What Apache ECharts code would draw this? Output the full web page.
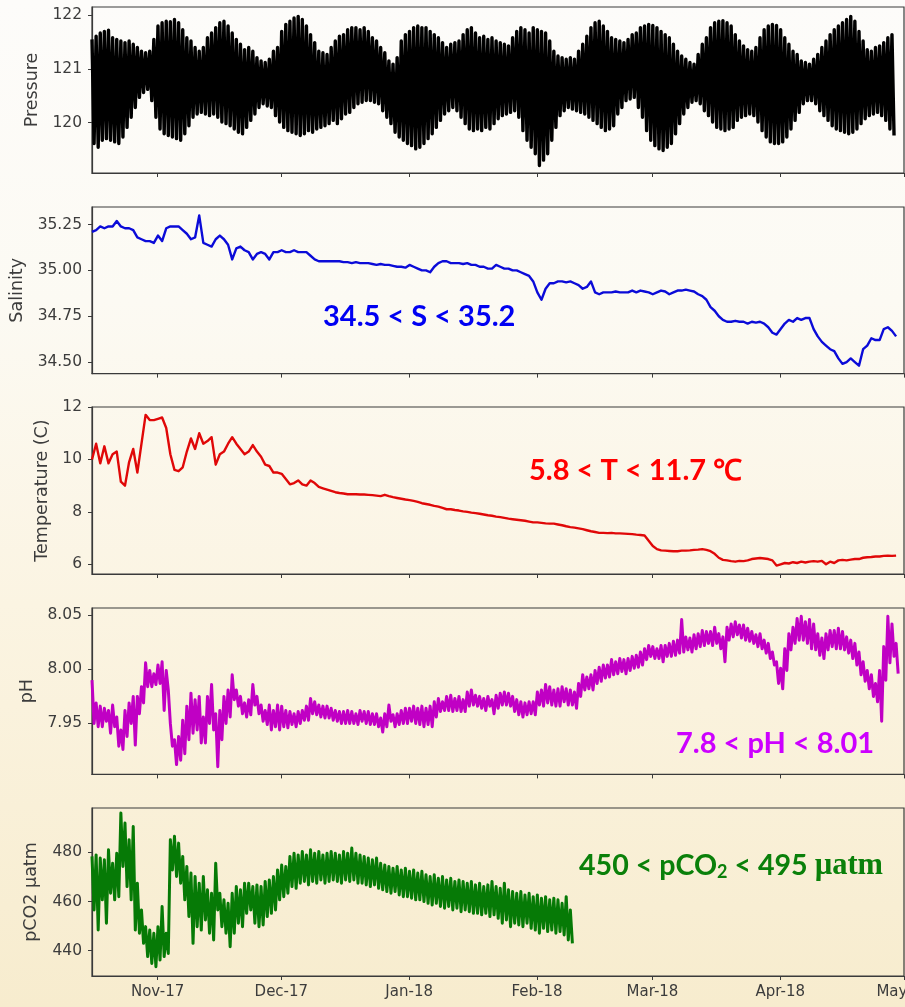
<!DOCTYPE html>
<html>
<head>
<meta charset="utf-8">
<script src="https://cdn.jsdelivr.net/npm/echarts@6/dist/echarts.min.js"></script>
<style>
  html, body { margin: 0; padding: 0; }
  body {
    width: 905px; height: 1007px; overflow: hidden;
    background: linear-gradient(to bottom, #fdfcfa 0%, #fcfaf3 30%, #fbf4e2 60%, #f7ecce 100%);
  }
  #chart { width: 905px; height: 1007px; }
</style>
</head>
<body>
<div id="chart"></div>
<script>
// Mooring time series, one sample per day from 16 Oct 2017 (day 0).
// Banded records (pressure, pH, pCO2) are stored as daily high / low values.

const startTime = Date.UTC(2017, 9, 16, 2);
const endTime = Date.UTC(2018, 4, 1);
const DAY = 86400000;

const monthTicks = [
  Date.UTC(2017, 10, 1), Date.UTC(2017, 11, 1), Date.UTC(2018, 0, 1),
  Date.UTC(2018, 1, 1), Date.UTC(2018, 2, 1), Date.UTC(2018, 3, 1), Date.UTC(2018, 4, 1)
];
const monthNames = ['Jan','Feb','Mar','Apr','May','Jun','Jul','Aug','Sep','Oct','Nov','Dec'];

const pressureTicks = [120, 121, 122];
const salinityTicks = [34.50, 34.75, 35.00, 35.25];
const temperatureTicks = [6, 8, 10, 12];
const phTicks = [7.95, 8.00, 8.05];
const pco2Ticks = [440, 460, 480];

const pressureHigh = [
  121.55,121.61,121.67,121.70,121.72,121.58,121.55,121.52,121.49,121.52,
  121.46,121.40,121.33,121.30,121.33,121.55,121.80,121.86,121.89,121.88,
  121.92,121.86,121.73,121.58,121.52,121.40,121.33,121.40,121.58,121.67,
  121.77,121.86,121.89,121.80,121.67,121.55,121.46,121.36,121.40,121.33,
  121.21,121.15,121.12,121.18,121.33,121.40,121.70,121.83,121.89,121.95,
  121.98,121.92,121.80,121.64,121.49,121.33,121.30,121.27,121.40,121.52,
  121.61,121.64,121.73,121.77,121.77,121.73,121.77,121.70,121.58,121.52,
  121.40,121.30,121.15,121.09,121.21,121.52,121.64,121.70,121.77,121.80,
  121.77,121.77,121.70,121.64,121.58,121.49,121.40,121.46,121.49,121.52,
  121.64,121.73,121.77,121.67,121.58,121.61,121.55,121.58,121.52,121.49,
  121.46,121.43,121.58,121.70,121.77,121.73,121.67,121.77,121.73,121.70,
  121.67,121.52,121.33,121.24,121.21,121.18,121.21,121.18,121.33,121.46,
  121.61,121.77,121.86,121.89,121.80,121.70,121.58,121.55,121.52,121.49,
  121.55,121.64,121.67,121.77,121.80,121.83,121.81,121.77,121.70,121.64,
  121.58,121.46,121.33,121.24,121.18,121.12,121.09,121.27,121.46,121.58,
  121.77,121.86,121.89,121.90,121.86,121.80,121.64,121.52,121.43,121.36,
  121.33,121.40,121.58,121.73,121.80,121.83,121.81,121.73,121.58,121.46,
  121.33,121.27,121.15,121.12,121.09,121.18,121.27,121.40,121.52,121.64,
  121.73,121.80,121.86,121.92,121.98,121.89,121.70,121.52,121.36,121.33,
  121.40,121.43,121.49,121.58,121.64
];
const pressureLow = [
  119.61,119.54,119.67,119.70,119.67,119.64,119.61,119.73,119.91,120.10,
  120.28,120.47,120.56,120.62,120.41,120.10,119.88,119.79,119.76,119.73,
  119.70,119.67,119.79,119.94,120.10,120.16,120.19,120.16,120.13,120.16,
  120.10,120.01,119.98,119.94,119.88,119.82,119.79,119.91,120.04,120.16,
  120.28,120.35,120.31,120.28,120.13,120.01,119.91,119.85,119.82,119.79,
  119.76,119.79,119.85,119.82,119.88,119.91,119.94,119.98,120.04,119.98,
  120.07,120.16,120.19,120.28,120.35,120.38,120.41,120.41,120.38,120.35,
  120.22,120.10,119.98,119.82,119.73,119.67,119.61,119.57,119.51,119.54,
  119.61,119.70,119.79,119.91,120.04,120.16,120.22,120.28,120.22,120.10,
  119.98,119.88,119.85,119.88,119.85,119.91,119.88,119.98,120.07,120.13,
  120.16,120.19,120.22,120.10,119.85,119.67,119.54,119.42,119.20,119.30,
  119.42,119.67,119.91,120.13,120.22,120.28,120.25,120.22,120.19,120.16,
  120.10,120.04,119.98,119.91,119.85,119.88,119.94,120.16,120.28,120.41,
  120.44,120.47,120.28,120.10,119.85,119.67,119.57,119.51,119.48,119.54,
  119.61,119.79,119.98,120.16,120.28,120.38,120.41,120.35,120.22,120.13,
  120.01,119.91,119.88,119.85,119.88,119.91,120.04,120.10,120.13,120.16,
  120.13,120.01,119.85,119.73,119.64,119.61,119.61,119.64,119.73,119.88,
  120.04,120.19,120.35,120.41,120.41,120.35,120.22,120.13,120.04,119.94,
  119.88,119.85,119.82,119.79,119.82,119.88,119.98,120.07,120.13,120.16,
  120.19,120.13,120.04,119.88,119.76
];

const salinity = [
  35.21,35.22,35.24,35.23,35.24,35.24,35.27,35.24,35.23,35.23,
  35.22,35.18,35.17,35.16,35.16,35.15,35.19,35.16,35.23,35.24,
  35.24,35.24,35.22,35.20,35.17,35.18,35.30,35.15,35.14,35.13,
  35.17,35.19,35.17,35.14,35.06,35.12,35.13,35.11,35.10,35.06,
  35.09,35.10,35.09,35.06,35.10,35.10,35.11,35.10,35.10,35.11,
  35.10,35.10,35.10,35.08,35.06,35.05,35.05,35.05,35.05,35.05,
  35.05,35.045,35.045,35.04,35.045,35.04,35.04,35.04,35.035,35.03,
  35.035,35.03,35.03,35.025,35.02,35.02,35.015,35.03,35.02,35.01,
  35.00,35.00,34.99,35.02,35.04,35.05,35.05,35.04,35.04,35.04,
  35.035,35.04,35.03,35.03,35.02,35.02,35.01,35.01,35.03,35.02,
  35.01,35.01,35.00,35.00,34.99,34.98,34.97,34.94,34.88,34.84,
  34.90,34.93,34.93,34.94,34.94,34.935,34.94,34.93,34.92,34.90,
  34.91,34.94,34.88,34.87,34.88,34.88,34.88,34.885,34.88,34.88,
  34.88,34.89,34.88,34.89,34.885,34.88,34.87,34.88,34.89,34.885,
  34.87,34.88,34.89,34.89,34.895,34.89,34.885,34.87,34.86,34.84,
  34.80,34.78,34.75,34.73,34.72,34.72,34.725,34.72,34.72,34.71,
  34.72,34.715,34.72,34.71,34.69,34.66,34.65,34.68,34.71,34.73,
  34.72,34.74,34.73,34.74,34.74,34.68,34.64,34.61,34.59,34.57,
  34.56,34.52,34.49,34.50,34.52,34.50,34.48,34.57,34.59,34.63,
  34.62,34.62,34.68,34.69,34.67,34.64
];

const temperature = [
  10.0,10.6,9.85,10.5,9.85,10.2,10.3,9.15,9.0,9.9,
  10.4,9.5,10.6,11.7,11.5,11.5,11.55,11.6,11.2,10.2,
  9.6,9.55,9.7,10.3,10.8,10.4,11.0,10.6,10.7,10.85,
  9.8,10.2,10.3,10.6,10.85,10.6,10.4,10.2,10.3,10.55,
  10.3,10.1,9.8,9.75,9.5,9.5,9.45,9.25,9.05,9.1,
  9.2,9.05,9.0,9.2,9.1,8.95,8.9,8.85,8.8,8.75,
  8.72,8.7,8.67,8.67,8.67,8.66,8.66,8.65,8.64,8.62,
  8.6,8.65,8.6,8.56,8.53,8.5,8.47,8.45,8.42,8.38,
  8.33,8.3,8.27,8.23,8.2,8.15,8.1,8.1,8.07,8.05,
  8.02,8.0,7.97,7.95,7.93,7.9,7.87,7.85,7.82,7.8,
  7.77,7.74,7.72,7.7,7.68,7.66,7.63,7.6,7.6,7.58,
  7.56,7.55,7.55,7.52,7.49,7.45,7.42,7.4,7.37,7.34,
  7.3,7.26,7.23,7.2,7.2,7.19,7.2,7.18,7.18,7.17,
  7.16,7.15,7.13,7.12,7.1,6.9,6.7,6.58,6.53,6.52,
  6.51,6.5,6.5,6.52,6.52,6.53,6.55,6.56,6.58,6.55,
  6.5,6.4,6.25,6.17,6.15,6.12,6.1,6.13,6.12,6.15,
  6.2,6.22,6.24,6.22,6.2,6.15,5.95,6.0,6.05,6.03,
  6.08,6.05,6.1,6.07,6.1,6.12,6.1,6.13,6.0,6.1,
  6.05,6.15,6.17,6.15,6.18,6.2,6.2,6.25,6.27,6.28,
  6.3,6.3,6.32,6.33,6.32,6.33
];

const phHigh = [
  7.990,7.969,7.966,7.964,7.962,7.967,7.956,7.944,7.962,7.969,
  7.975,7.975,7.984,8.006,7.999,7.996,8.004,8.007,7.999,7.950,
  7.935,7.938,7.953,7.966,7.978,7.972,7.975,7.956,7.975,7.986,
  7.959,7.962,7.975,7.981,7.995,7.981,7.975,7.969,7.972,7.986,
  7.975,7.967,7.962,7.967,7.962,7.967,7.966,7.962,7.961,7.959,
  7.961,7.962,7.966,7.973,7.970,7.967,7.966,7.966,7.964,7.962,
  7.961,7.961,7.962,7.961,7.959,7.962,7.961,7.961,7.959,7.959,
  7.955,7.959,7.967,7.958,7.959,7.962,7.964,7.964,7.966,7.964,
  7.966,7.964,7.966,7.970,7.973,7.970,7.975,7.976,7.973,7.975,
  7.972,7.979,7.981,7.976,7.975,7.973,7.975,7.972,7.976,7.978,
  7.979,7.978,7.975,7.972,7.970,7.969,7.970,7.970,7.979,7.981,
  7.986,7.984,7.981,7.982,7.984,7.982,7.981,7.979,7.987,7.995,
  7.993,7.995,7.999,8.002,8.004,8.004,8.009,8.007,8.010,8.009,
  8.010,8.012,8.013,8.016,8.019,8.022,8.021,8.019,8.022,8.022,
  8.024,8.026,8.027,8.046,8.030,8.029,8.032,8.033,8.036,8.035,
  8.035,8.039,8.033,8.030,8.039,8.042,8.044,8.041,8.041,8.038,
  8.035,8.032,8.033,8.027,8.024,8.016,8.007,8.001,8.019,8.033,
  8.039,8.047,8.049,8.044,8.046,8.042,8.033,8.029,8.033,8.036,
  8.036,8.038,8.035,8.030,8.027,8.024,8.016,8.007,7.999,7.995,
  7.987,7.999,8.021,8.049,8.042,8.024
];
const phLow = [
  7.950,7.947,7.947,7.952,7.941,7.947,7.929,7.926,7.938,7.950,
  7.930,7.959,7.969,7.984,7.984,7.986,7.987,7.962,7.981,7.929,
  7.912,7.916,7.922,7.935,7.941,7.944,7.932,7.932,7.950,7.944,
  7.910,7.935,7.950,7.956,7.972,7.966,7.959,7.956,7.958,7.967,
  7.959,7.952,7.949,7.944,7.947,7.944,7.947,7.946,7.949,7.947,
  7.950,7.953,7.953,7.959,7.958,7.956,7.955,7.955,7.953,7.952,
  7.950,7.950,7.950,7.950,7.949,7.952,7.950,7.949,7.949,7.947,
  7.942,7.947,7.952,7.947,7.949,7.950,7.950,7.952,7.950,7.949,
  7.947,7.949,7.947,7.956,7.961,7.962,7.962,7.961,7.962,7.961,
  7.961,7.966,7.967,7.966,7.964,7.962,7.966,7.959,7.964,7.967,
  7.967,7.966,7.961,7.958,7.956,7.958,7.959,7.958,7.967,7.966,
  7.969,7.967,7.966,7.966,7.970,7.967,7.967,7.964,7.975,7.981,
  7.982,7.981,7.987,7.989,7.992,7.993,7.995,7.996,7.998,7.996,
  7.999,8.001,8.002,8.004,8.009,8.012,8.010,8.010,8.007,8.012,
  8.012,8.013,8.015,8.016,8.018,8.016,8.019,8.021,8.022,8.024,
  8.022,8.024,8.019,8.007,8.027,8.030,8.032,8.029,8.027,8.026,
  8.024,8.021,8.019,8.015,8.010,8.004,7.987,7.982,7.999,8.018,
  8.024,8.027,8.027,8.024,8.019,8.018,8.013,8.010,8.018,8.021,
  8.019,8.019,8.018,8.015,8.010,8.004,7.995,7.989,7.982,7.975,
  7.970,7.952,7.990,8.006,8.012,7.996
];

const pco2High = [
  478.4,479.0,477.7,477.0,481.1,475.6,479.7,496.1,492.0,485.2,
  490.6,467.5,456.6,449.8,448.4,447.1,449.8,458.0,447.1,485.2,
  486.6,483.8,478.4,474.3,471.6,470.2,467.5,470.2,464.8,463.4,
  475.6,463.4,460.7,459.3,463.4,466.1,464.8,467.5,467.5,466.1,
  466.8,466.1,468.2,468.8,470.2,472.9,474.9,474.3,478.4,479.7,
  479.0,480.4,479.0,481.1,479.7,480.4,479.0,479.7,480.4,479.7,
  479.0,480.4,479.7,481.8,479.7,479.0,478.4,477.7,477.0,477.7,
  475.6,474.9,474.3,473.6,474.3,472.9,473.6,472.3,472.9,471.6,
  472.3,470.9,470.2,470.9,469.5,470.2,468.8,469.5,468.2,468.8,
  468.2,467.5,468.2,466.8,467.5,466.1,466.8,468.2,466.1,465.4,
  467.5,464.8,464.1,463.4,464.1,462.7,463.4,462.0,462.7,461.4,
  462.0,460.7,461.4,460.7,459.3,462.0,456.6
];
const pco2Low = [
  456.6,448.4,460.7,451.2,463.4,460.7,462.0,474.3,466.1,460.7,
  448.4,447.1,443.0,437.6,434.8,433.5,436.2,437.6,438.9,472.9,
  470.2,467.5,460.7,453.9,443.0,449.8,448.4,452.5,447.1,444.4,
  456.6,449.8,447.1,441.6,447.1,451.2,449.8,455.2,456.6,451.2,
  449.8,450.5,453.9,455.2,456.6,460.7,462.0,463.4,466.1,465.4,
  467.5,468.2,466.8,468.2,467.5,468.8,467.5,468.2,468.8,468.2,
  467.5,468.8,468.2,468.8,467.5,467.5,466.8,466.1,466.8,465.4,
  464.8,464.1,463.4,464.1,462.7,462.0,462.0,461.4,460.7,460.7,
  460.0,459.3,458.6,459.3,458.0,457.3,458.0,456.6,457.3,455.9,
  456.6,455.9,455.2,455.2,454.6,455.2,453.9,454.6,453.2,451.2,
  452.5,449.8,451.2,450.5,449.8,451.2,449.1,448.4,447.1,449.1,
  447.8,448.4,447.1,447.8,446.4,444.4,443.0
];

// daily series -> [time, value]
function daily(values) {
  return values.map((v, d) => [startTime + d * DAY, v]);
}
// daily high/low pairs -> oscillating trace (high at the day, low half a day later)
function band(high, low) {
  const out = [];
  for (let d = 0; d < high.length; d++) {
    out.push([startTime + d * DAY, high[d]]);
    out.push([startTime + (d + 0.5) * DAY, low[d]]);
  }
  return out;
}

const AXIS_COLOR = '#3a3a3a';
const TEXT_COLOR = '#3c3c3c';
const TICK_FONT = 'DejaVu Sans';

const panels = [
  { top: 7,   height: 166, min: 119.06, max: 122.154, ticks: pressureTicks, dec: 0,
    name: 'Pressure', gap: 46, data: band(pressureHigh, pressureLow), color: '#000000', width: 3.4 },
  { top: 207, height: 166.6, min: 34.437, max: 35.346, ticks: salinityTicks, dec: 2,
    name: 'Salinity', gap: 64, data: daily(salinity), color: '#0b0bd8', width: 2.4 },
  { top: 407, height: 167, min: 5.63, max: 12.0, ticks: temperatureTicks, dec: 0,
    name: 'Temperature (C)', gap: 39, data: daily(temperature), color: '#e00808', width: 2.4 },
  { top: 608, height: 166.4, min: 7.9029, max: 8.0567, ticks: phTicks, dec: 2,
    name: 'pH', gap: 53, data: band(phHigh, phLow), color: '#c000c4', width: 3 },
  { top: 808, height: 168, min: 429.7, max: 498.1, ticks: pco2Ticks, dec: 0,
    name: 'pCO2 µatm', gap: 52, data: band(pco2High, pco2Low), color: '#067a06', width: 3 }
];

function monthLabel(v) {
  const dt = new Date(v);
  return monthNames[dt.getUTCMonth()] + '-' + String(dt.getUTCFullYear()).slice(2);
}

const grids = [], xAxes = [], yAxes = [], series = [];
panels.forEach((p, i) => {
  grids.push({
    left: 92, right: 1, top: p.top, height: p.height,
    containLabel: false, outerBoundsMode: 'none',
    show: true, borderColor: AXIS_COLOR, borderWidth: 1.2, backgroundColor: 'transparent'
  });
  xAxes.push({
    type: 'value', gridIndex: i, min: startTime, max: endTime, scale: true,
    axisLine: { show: true, onZero: false, lineStyle: { color: AXIS_COLOR, width: 1.2 } },
    axisTick: { show: true, length: 4, inside: false, customValues: monthTicks,
                lineStyle: { color: AXIS_COLOR } },
    axisLabel: {
      show: i === panels.length - 1, customValues: monthTicks, margin: 9,
      fontFamily: TICK_FONT, fontSize: 15, color: TEXT_COLOR,
      formatter: monthLabel
    },
    splitLine: { show: false }
  });
  yAxes.push({
    type: 'value', gridIndex: i, min: p.min, max: p.max, scale: true,
    axisLine: { show: true, onZero: false, lineStyle: { color: AXIS_COLOR, width: 1.2 } },
    axisTick: { show: true, length: 4, customValues: p.ticks, lineStyle: { color: AXIS_COLOR } },
    axisLabel: {
      customValues: p.ticks, margin: 10,
      fontFamily: TICK_FONT, fontSize: 15.5, color: TEXT_COLOR,
      formatter: (v) => Number(v).toFixed(p.dec)
    },
    splitLine: { show: false },
    name: p.name, nameLocation: 'middle', nameGap: p.gap,
    nameTextStyle: { fontFamily: TICK_FONT, fontSize: 17.5, color: TEXT_COLOR }
  });
  series.push({
    type: 'line', xAxisIndex: i, yAxisIndex: i, data: p.data,
    showSymbol: false, symbol: 'none', clip: true,
    lineStyle: { color: p.color, width: p.width, join: 'round' },
    itemStyle: { color: p.color },
    emphasis: { disabled: true }
  });
});

const ANNOT_FONT = 'Lato';
const graphic = [
  { type: 'text', x: 323, y: 317,
    style: { text: '34.5 < S < 35.2', fill: '#0000f2', align: 'left', verticalAlign: 'middle',
             font: 'bold 29px ' + ANNOT_FONT } },
  { type: 'text', x: 529, y: 471,
    style: { text: '5.8 < T < 11.7 ℃', fill: '#ff0000', align: 'left', verticalAlign: 'middle',
             font: 'bold 29px ' + ANNOT_FONT } },
  { type: 'text', x: 676, y: 744,
    style: { text: '7.8 < pH < 8.01', fill: '#cc00ff', align: 'left', verticalAlign: 'middle',
             font: 'bold 29px ' + ANNOT_FONT } },
  { type: 'text', x: 579, y: 866,
    style: {
      text: '{a|450 < pCO}{s|2}{a| < 495 }{u|µatm}',
      align: 'left', verticalAlign: 'middle',
      rich: {
        a: { fill: '#0a800a', fontFamily: ANNOT_FONT, fontWeight: 'bold', fontSize: 28.6 },
        s: { fill: '#0a800a', fontFamily: ANNOT_FONT, fontWeight: 'bold', fontSize: 18,
             padding: [13, 0, 0, 0] },
        u: { fill: '#0a800a', fontFamily: 'Liberation Serif', fontWeight: 'bold', fontSize: 30.5 }
      }
    } }
];

const chart = echarts.init(document.getElementById('chart'), null, { renderer: 'canvas' });
chart.setOption({
  animation: false,
  backgroundColor: 'transparent',
  grid: grids,
  xAxis: xAxes,
  yAxis: yAxes,
  series: series,
  graphic: graphic
});
</script>
</body>
</html>
